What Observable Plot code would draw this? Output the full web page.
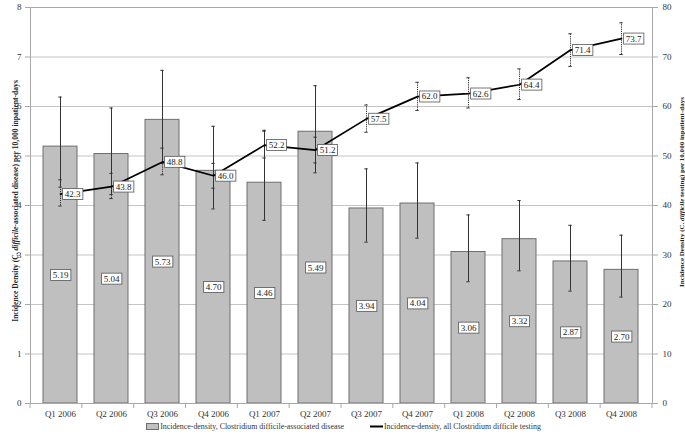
<!DOCTYPE html>
<html><head><meta charset="utf-8">
<script src="https://cdn.jsdelivr.net/npm/d3@7"></script>
<script src="https://cdn.jsdelivr.net/npm/@observablehq/plot@0.6"></script>
<style>
body{margin:0;background:#fff;font-family:"Liberation Serif","Times New Roman",serif;}
#legend{display:flex;justify-content:center;align-items:center;gap:26px;height:12px;font-size:7.9px;color:#333;margin-left:2px}
#legend span{display:flex;align-items:center}
</style></head>
<body><div id="chart"></div>
<div id="legend">
<span><svg width="13" height="7" style="margin-right:1px"><rect x="0.5" y="0.5" width="12" height="6" fill="#bfbfbf" stroke="#6e6e6e"/></svg>Incidence-density, Clostridium difficile-associated disease</span>
<span><svg width="13" height="7" style="margin-right:1px"><line x1="0" x2="13" y1="3.5" y2="3.5" stroke="#000" stroke-width="2"/></svg>Incidence-density, all Clostridium difficile testing</span>
</div>
<script>
const quarters = ["Q1 2006","Q2 2006","Q3 2006","Q4 2006","Q1 2007","Q2 2007","Q3 2007","Q4 2007","Q1 2008","Q2 2008","Q3 2008","Q4 2008"];
const cdadRate = [5.19,5.04,5.73,4.70,4.46,5.49,3.94,4.04,3.06,3.32,2.87,2.70];
const cdadLow  = [4.37,4.22,4.85,3.93,3.70,4.66,3.26,3.34,2.46,2.68,2.27,2.15];
const cdadHigh = [6.19,5.97,6.73,5.60,5.50,6.42,4.74,4.86,3.81,4.10,3.60,3.40];
const testRate = [42.3,43.8,48.8,46.0,52.2,51.2,57.5,62.0,62.6,64.4,71.4,73.7];
const testLow  = [39.9,41.4,46.2,43.5,49.6,48.6,54.8,59.2,59.7,61.4,68.1,70.5];
const testHigh = [45.2,46.5,51.6,48.5,55.2,53.8,60.3,64.9,65.8,67.6,74.7,76.9];
const leftTicks = [0,1,2,3,4,5,6,7,8];
const rightTicks = [0,10,20,30,40,50,60,70,80];

const rows = quarters.map((q,i)=>({q, cdad:cdadRate[i], cLo:cdadLow[i], cHi:cdadHigh[i],
  test:testRate[i], tLo:testLow[i], tHi:testHigh[i]}));
const ratio = rightTicks[8]/leftTicks[8];

const capInset = 15.3;
const plot = Plot.plot({
  width:685, height:420, marginTop:7, marginBottom:17, marginLeft:30, marginRight:33,
  style:{fontFamily:"'Liberation Serif','Times New Roman',serif", fontSize:"9px", background:"#fff", color:"#333"},
  x:{domain:quarters, paddingInner:0.33, paddingOuter:0.165, label:null},
  y:{domain:[0,8], label:null},
  marks:[
    Plot.gridY(leftTicks.slice(1), {stroke:"#c4c4c4", strokeOpacity:1, strokeWidth:1}),
    Plot.barY(rows,{x:"q", y:"cdad", fill:"#bfbfbf", stroke:"#6e6e6e", strokeWidth:1}),
    Plot.frame({stroke:"#a8a8a8"}),
    Plot.axisY(leftTicks,{anchor:"left", tickSize:5, tickPadding:4, stroke:"#a8a8a8", fill:"#333", label:null, tickFormat:(d,i)=>String(leftTicks[i])}),
    Plot.axisY(leftTicks,{anchor:"right", tickSize:5, tickPadding:5, stroke:"#a8a8a8", fill:"#333", label:null, tickFormat:(d,i)=>String(rightTicks[i])}),
    Plot.axisX({tickSize:0, tickPadding:7, fill:"#333", label:null}),
    // CDAD error bars (solid)
    Plot.ruleX(rows,{x:"q", y1:"cLo", y2:"cHi", stroke:"#333", strokeWidth:1}),
    Plot.tickY(rows,{x:"q", y:"cLo", insetLeft:capInset, insetRight:capInset, stroke:"#333", strokeWidth:1}),
    Plot.tickY(rows,{x:"q", y:"cHi", insetLeft:capInset, insetRight:capInset, stroke:"#333", strokeWidth:1}),
    // testing error bars (dotted)
    Plot.ruleX(rows,{x:"q", y1:d=>d.tLo/ratio, y2:d=>d.tHi/ratio, stroke:"#333", strokeWidth:1, strokeDasharray:"1.2,1"}),
    Plot.tickY(rows,{x:"q", y:d=>d.tLo/ratio, insetLeft:capInset, insetRight:capInset, stroke:"#333", strokeWidth:1}),
    Plot.tickY(rows,{x:"q", y:d=>d.tHi/ratio, insetLeft:capInset, insetRight:capInset, stroke:"#333", strokeWidth:1}),
    Plot.line(rows,{x:"q", y:d=>d.test/ratio, stroke:"#000", strokeWidth:1.7}),
    Plot.text(rows,{x:"q", y:d=>d.cdad/2, text:d=>d.cdad.toFixed(2), fill:"#222", fontSize:9}),
    Plot.text(rows,{x:"q", y:d=>d.test/ratio, text:d=>d.test.toFixed(1), dx:12, fill:"#222", fontSize:9})
  ]
});
document.getElementById("chart").appendChild(plot);

const svg = d3.select(plot);
// boxes behind value labels
svg.selectAll('g[aria-label="text"] text').each(function(){
  const bb = this.getBBox();
  const r = document.createElementNS("http://www.w3.org/2000/svg","rect");
  r.setAttribute("x", bb.x-2); r.setAttribute("y", bb.y-0.5);
  r.setAttribute("width", bb.width+4); r.setAttribute("height", bb.height+1);
  r.setAttribute("fill","#fff"); r.setAttribute("stroke","#555"); r.setAttribute("stroke-width","0.8");
  const t = this.getAttribute("transform"); if (t) r.setAttribute("transform", t);
  this.parentNode.insertBefore(r, this);
});
// category boundary ticks (Excel style)
const xs = plot.scale("x");
const [r0, r1] = xs.range;
const y0 = plot.scale("y").apply(0);
const step = (r1 - r0)/quarters.length;
const tg = svg.append("g");
for (let i=0;i<=quarters.length;i++){
  tg.append("line").attr("x1", r0+i*step).attr("x2", r0+i*step).attr("y1", y0).attr("y2", y0+5)
    .attr("stroke","#a8a8a8");
}
// axis titles with italic species name
function title(x, cy, targetLen, parts){
  const t = svg.append("text").attr("transform",`translate(${x},${cy}) rotate(-90)`)
    .attr("text-anchor","middle").attr("font-weight","bold").attr("font-size","10px").attr("fill","#222");
  parts.forEach(([s,it])=>t.append("tspan").attr("font-style", it?"italic":"normal").text(s));
  const len = t.node().getComputedTextLength();
  t.attr("font-size", (10*targetLen/len).toFixed(2)+"px");
}
title(18, 201, 242, [["Incidence Density (C. ",0],["difficile",1],["-associated disease) per 10,000 inpatient-days",0]]);
title(684, 192, 190, [["Incidence Density (C. ",0],["difficile",1],[" testing) per 10,000 inpatient-days",0]]);
</script>
</body></html>
